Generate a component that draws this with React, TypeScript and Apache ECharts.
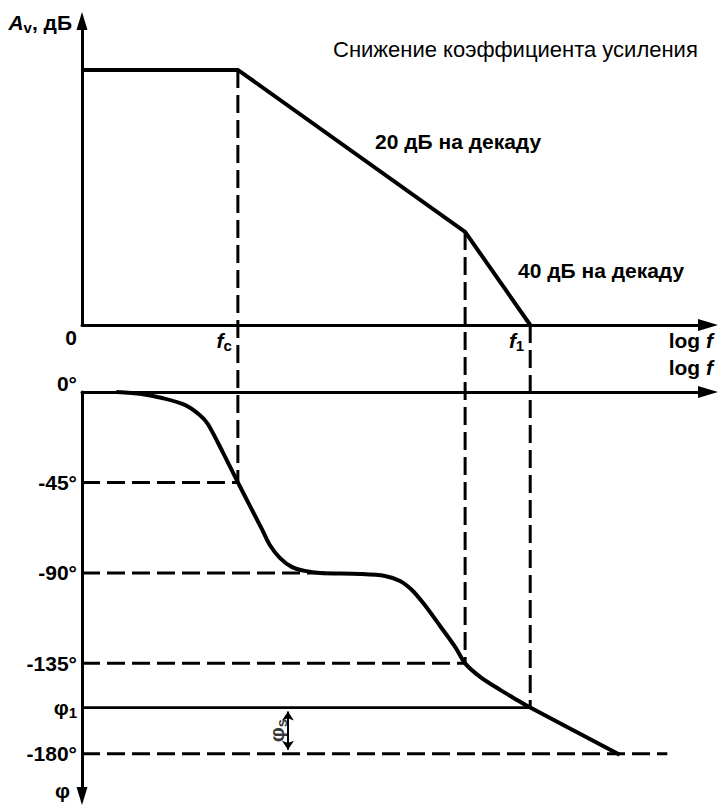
import React, { useEffect, useRef } from 'react';
import * as echarts from 'echarts';

// ---- data (log f in arbitrary units, gain in dB, phase in degrees) ----
const X_MAX = 100;
const GAIN_MAX = 71.5;
const PHASE_MIN = -201;

const F_C = 24.9; // first corner frequency
const F_2 = 61.2; // second corner frequency
const F_1 = 71.6; // unity-gain frequency
const PHI_1 = -157;

const gainX = [0, F_C, F_2, F_1];
const gainDb = [60, 60, 21.9, 0];

const phaseX = [5.5, 9.5, 12.8, 16.5, 18.8, 20.1, 22.5, 24.9, 26.8, 28.8, 30.0, 31.6, 33.5, 35.6, 38.0, 44.4, 48.4, 50.8, 52.7, 54.6, 57.2, 59.6, 61.2, 63.6, 66.8, 69.2, 71.6, 85.9];
const phaseDeg = [0, -1, -3, -6.5, -11.4, -15.9, -30, -45, -56.5, -68.6, -76.1, -82.5, -87, -89, -90, -90.5, -91.5, -94, -98.5, -105.4, -116.4, -126.8, -135, -141.7, -148.2, -152.7, -157, -180.5];

const phaseTickValues = [0, -45, -90, -135, PHI_1, -180];
const phaseTickLabels = ['0°', '-45°', '-90°', '-135°', 'φ1', '-180°'];

const refLevels = [-45, -90, -135, -180];
const refEnds = [F_C, 40, F_2, 93.5];

const dropX = [F_C, F_2, F_1];
const dropGain = [60, 21.9, 0];
const dropPhase = [-45, -135, PHI_1];

const PHI_S_X = 32.9;
const PHI_S_LABEL_X = 31.0;

const FONT = '"Liberation Sans", Arial, Helvetica, sans-serif';

const rich: any = {
  b: { fontFamily: FONT, fontSize: 21, fontWeight: 'bold', color: '#000' },
  i: { fontFamily: FONT, fontSize: 21, fontWeight: 'bold', fontStyle: 'italic', color: '#000' },
  s: { fontFamily: FONT, fontSize: 15, fontWeight: 'bold', color: '#000', padding: [10, 0, 0, 0] },
  up: { fontFamily: FONT, fontSize: 21, fontWeight: 'bold', color: '#000', padding: [0, 0, 18, 0] },
  down: { fontFamily: FONT, fontSize: 21, fontWeight: 'bold', color: '#000', padding: [24, 0, 0, 0] },
};

const axisLineStyle = { color: '#000', width: 3 };

export default function App() {
  const ref = useRef<HTMLDivElement>(null);
  useEffect(() => {
    if (!ref.current) return;
    const chart = echarts.init(ref.current, null, { renderer: 'svg' });
    const dashed = { color: '#000', width: 3, type: [18, 7] as any };

    const series: any[] = [];
    refLevels.forEach((lvl, k) => {
      series.push({
        type: 'line', xAxisIndex: 1, yAxisIndex: 1, symbol: 'none', silent: true, z: 1,
        data: [[0, lvl], [refEnds[k], lvl]],
        lineStyle: dashed,
      });
    });
    series.push({
      type: 'line', xAxisIndex: 1, yAxisIndex: 1, symbol: 'none', silent: true, z: 2,
      data: [[0, PHI_1], [F_1, PHI_1]],
      lineStyle: { color: '#000', width: 2.7 },
      markLine: {
        silent: true,
        symbol: ['arrow', 'arrow'],
        symbolSize: 9,
        label: { show: false },
        lineStyle: { color: '#000', width: 2, type: 'solid' },
        data: [[{ coord: [PHI_S_X, PHI_1 - 2] }, { coord: [PHI_S_X, -178] }]],
      },
    });
    series.push({
      type: 'line', xAxisIndex: 0, yAxisIndex: 0, symbol: 'none', silent: true, z: 3,
      data: gainX.map((x, k) => [x, gainDb[k]]),
      lineStyle: { color: '#000', width: 4, join: 'miter' },
    });
    series.push({
      type: 'line', xAxisIndex: 1, yAxisIndex: 1, symbol: 'none', silent: true, z: 3,
      smooth: 0.3,
      data: phaseX.map((x, k) => [x, phaseDeg[k]]),
      lineStyle: { color: '#000', width: 4 },
    });
    series.push({
      type: 'scatter', xAxisIndex: 1, yAxisIndex: 1, symbolSize: 0, silent: true,
      data: [[PHI_S_LABEL_X, (PHI_1 - 180) / 2]],
      label: {
        show: true, position: 'inside', rotate: 90,
        formatter: '{p|φ}{q|s}',
        rich: {
          p: { fontFamily: FONT, fontSize: 21, fontWeight: 'bold', color: '#000' },
          q: { fontFamily: FONT, fontSize: 15, fontWeight: 'bold', color: '#000', padding: [10, 0, 0, 0] },
        },
      },
    });

    chart.setOption({
      animation: false,
      backgroundColor: '#fff',
      grid: [
        { left: 82, top: 21, width: 626, height: 304, outerBoundsMode: 'none' },
        { left: 82, top: 392, width: 626, height: 404, outerBoundsMode: 'none' },
      ],
      xAxis: [
        {
          gridIndex: 0, type: 'value', min: 0, max: X_MAX,
          axisLine: { lineStyle: axisLineStyle, symbol: ['none', 'triangle'], symbolSize: [12, 20] },
          axisTick: { show: false }, splitLine: { show: false },
          axisLabel: {
            customValues: [F_C, F_1], align: 'right', margin: 3, padding: [0, 6, 0, 0],
            formatter: (v: number) => (Math.abs(v - F_C) < 0.01 ? '{i|f}{s|c}' : '{i|f}{s|1}'),
            rich,
          },
          name: '{b|log }{i|f}', nameLocation: 'end', nameGap: 5, nameMoveOverlap: false,
          nameTextStyle: { align: 'right', verticalAlign: 'top', padding: [5, 0, 0, 0], rich },
        },
        {
          gridIndex: 1, type: 'value', min: 0, max: X_MAX, position: 'top',
          axisLine: { onZero: false, lineStyle: axisLineStyle, symbol: ['none', 'triangle'], symbolSize: [12, 20] },
          axisTick: { show: false }, splitLine: { show: false }, axisLabel: { show: false },
          name: '{b|log }{i|f}', nameLocation: 'end', nameGap: 5, nameMoveOverlap: false,
          nameTextStyle: { align: 'right', verticalAlign: 'bottom', padding: [0, 0, 14, 0], rich },
        },
      ],
      yAxis: [
        {
          gridIndex: 0, type: 'value', min: 0, max: GAIN_MAX,
          axisLine: { show: true, lineStyle: axisLineStyle, symbol: ['none', 'triangle'], symbolSize: [11, 18] },
          axisTick: { show: false }, splitLine: { show: false },
          axisLabel: { customValues: [0], margin: 5, formatter: () => '{down|0}', rich },
          name: '{i|A}{s|v}{b|, дБ}', nameLocation: 'end', nameGap: -1, nameMoveOverlap: false,
          nameTextStyle: { align: 'right', verticalAlign: 'middle', padding: [0, 10, 0, 0], rich },
        },
        {
          gridIndex: 1, type: 'value', min: PHASE_MIN, max: 0,
          axisLine: { show: true, lineStyle: axisLineStyle, symbol: ['triangle', 'none'], symbolSize: [11, 18] },
          axisTick: { show: false }, splitLine: { show: false },
          axisLabel: {
            customValues: phaseTickValues, margin: 5,
            formatter: (v: number) => {
              const k = phaseTickValues.findIndex((t) => Math.abs(t - v) < 0.01);
              const t = phaseTickLabels[k] ?? '';
              if (k === 0) return '{up|' + t + '}';
              if (t === 'φ1') return '{b|φ}{s|1}';
              return '{b|' + t + '}';
            },
            rich,
          },
          name: '{b|φ}', nameLocation: 'start', nameGap: -6, nameMoveOverlap: false,
          nameTextStyle: { align: 'right', verticalAlign: 'middle', padding: [0, 12, 0, 0], rich },
        },
      ],
      series,
    });

    const graphics: any[] = [
      {
        type: 'text', x: 333, y: 49, silent: true,
        style: { text: 'Снижение коэффициента усиления', font: `22px ${FONT}`, fill: '#000', verticalAlign: 'middle' },
      },
      {
        type: 'text', x: 375, y: 141, silent: true,
        style: { text: '20 дБ на декаду', font: `bold 21px ${FONT}`, fill: '#000', verticalAlign: 'middle' },
      },
      {
        type: 'text', x: 518, y: 270, silent: true,
        style: { text: '40 дБ на декаду', font: `bold 21px ${FONT}`, fill: '#000', verticalAlign: 'middle' },
      },
    ];
    dropX.forEach((x, k) => {
      const p1 = chart.convertToPixel({ xAxisIndex: 0, yAxisIndex: 0 }, [x, dropGain[k]]) as number[];
      const p2 = chart.convertToPixel({ xAxisIndex: 1, yAxisIndex: 1 }, [x, dropPhase[k]]) as number[];
      graphics.push({
        type: 'line', silent: true, z: 1,
        shape: { x1: p1[0], y1: p1[1], x2: p2[0], y2: p2[1] },
        style: { stroke: '#000', lineWidth: 3, lineDash: [18, 7] },
      });
    });
    chart.setOption({ graphic: graphics });

    return () => chart.dispose();
  }, []);

  return (
    <div
      ref={ref}
      style={{ position: 'absolute', left: 0, top: 0, width: 719, height: 807, background: '#fff' }}
    />
  );
}
